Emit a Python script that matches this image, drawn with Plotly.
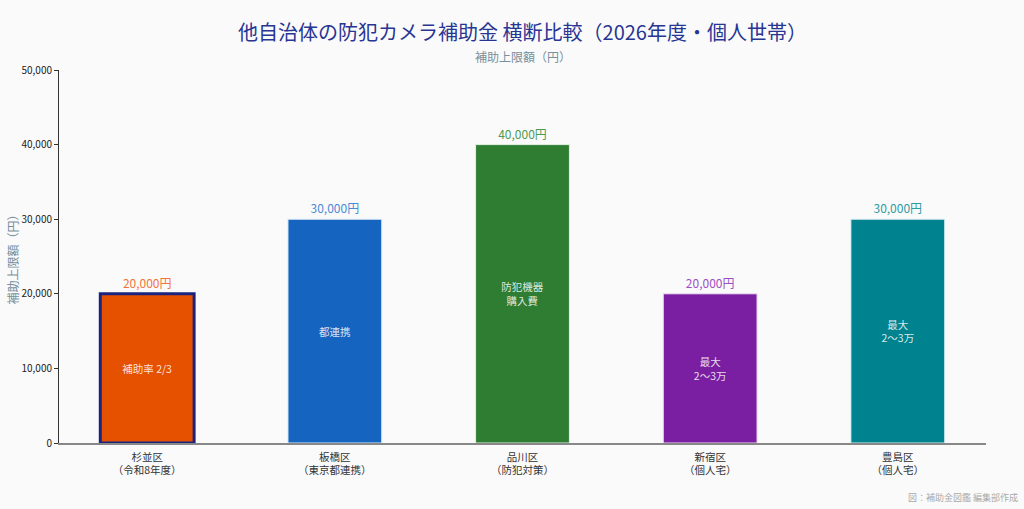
import plotly.graph_objects as go

# 区ごとの補助上限額（2026年度・個人世帯）
wards = ["杉並区<br>（令和8年度）", "板橋区<br>（東京都連携）", "品川区<br>（防犯対策）",
         "新宿区<br>（個人宅）", "豊島区<br>（個人宅）"]
limits = [20000, 30000, 40000, 20000, 30000]
notes = ["補助率 2/3", "都連携", "防犯機器<br>購入費", "最大<br>2～3万", "最大<br>2～3万"]
value_labels = ["20,000円", "30,000円", "40,000円", "20,000円", "30,000円"]

bar_colors = ["#E65100", "#1565C0", "#2E7D32", "#7B1FA2", "#00838F"]
label_colors = ["#F4743B", "#4A8AD6", "#4F9A55", "#9D4FC4", "#2F9BA5"]
edge_colors = ["#1A237E", "#E3EEF9", "#E3F0E4", "#EFE3F5", "#DDF0F2"]
edge_widths = [3, 1, 1, 1, 1]

FONT = "Noto Sans CJK JP, Noto Sans, sans-serif"

x = list(range(len(wards)))

fig = go.Figure()

fig.add_trace(go.Bar(
    x=x, y=limits, width=0.5,
    marker=dict(color=bar_colors, line=dict(color=edge_colors, width=edge_widths)),
    text=notes, textposition="inside", insidetextanchor="middle",
    textfont=dict(family=FONT, size=10.5, color="rgba(255,255,255,0.85)"),
    textangle=0, hoverinfo="skip", showlegend=False,
))

# 棒の上の金額ラベル（透明マーカーで少し浮かせる）
fig.add_trace(go.Scatter(
    x=x, y=limits, mode="markers+text", text=value_labels, textposition="top center",
    marker=dict(size=3, opacity=0),
    textfont=dict(family=FONT, size=12, color=label_colors),
    hoverinfo="skip", showlegend=False, cliponaxis=False,
))

fig.update_layout(
    width=1024, height=509,
    paper_bgcolor="#FAFAFA", plot_bgcolor="#FAFAFA",
    margin=dict(l=59, r=38, t=70, b=66, autoexpand=False),
    font=dict(family=FONT, color="#333333"),
    title=dict(
        text="他自治体の防犯カメラ補助金 横断比較（2026年度・個人世帯）",
        x=0.5, xanchor="center", xref="paper",
        y=1 - 33 / 509, yanchor="middle", yref="container",
        font=dict(size=20, color="#283593"),
    ),
    xaxis=dict(
        range=[-0.47, 4.47], tickmode="array", tickvals=x, ticktext=wards,
        showline=True, linecolor="#888888", linewidth=2, ticks="",
        showgrid=False, zeroline=False, automargin=False,
        ticklabelstandoff=3,
        tickfont=dict(size=10.5, color="#333333"),
    ),
    yaxis=dict(
        range=[0, 50000], tickvals=[0, 10000, 20000, 30000, 40000, 50000],
        tickformat=",d", showline=True, linecolor="#333333", linewidth=1,
        ticks="outside", ticklen=4, tickcolor="#333333",
        showgrid=False, zeroline=False, automargin=False,
        tickfont=dict(size=10, color="#222222"),
        title=dict(text="補助上限額（円）", font=dict(size=12, color="#78909C"), standoff=0),
    ),
    annotations=[
        dict(text="補助上限額（円）", xref="paper", yref="paper",
             x=0.5, y=(443 - 57) / 373, xanchor="center", yanchor="middle",
             showarrow=False, font=dict(size=12, color="#78909C")),
        dict(text="図：補助金図鑑 編集部作成", xref="paper", yref="paper",
             x=1.037, y=(443 - 497) / 373, xanchor="right", yanchor="middle",
             showarrow=False, font=dict(size=9, color="#AAAAAA")),
    ],
)

fig.write_html("out.html", config={"displayModeBar": False},
               post_script="document.body.style.margin='0';")
